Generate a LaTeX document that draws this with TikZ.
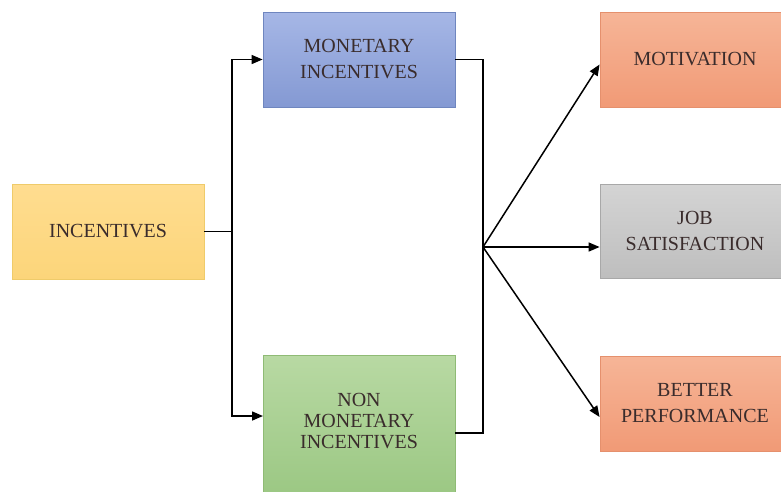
\documentclass[tikz,border=0pt]{standalone}
\usepackage{fontspec}
\setmainfont{Liberation Serif}
\usetikzlibrary{arrows.meta,calc}
\definecolor{txt}{HTML}{3A2C2C}
\definecolor{yelT}{HTML}{FFDD90}
\definecolor{yelB}{HTML}{FCD57A}
\definecolor{yelD}{HTML}{EFCB6A}
\definecolor{bluT}{HTML}{A6B7E6}
\definecolor{bluB}{HTML}{8499D3}
\definecolor{bluD}{HTML}{6F86BF}
\definecolor{grnT}{HTML}{B8D9A3}
\definecolor{grnB}{HTML}{9CC884}
\definecolor{grnD}{HTML}{8FBB75}
\definecolor{salT}{HTML}{F6B597}
\definecolor{salB}{HTML}{F19A76}
\definecolor{salD}{HTML}{E5906D}
\definecolor{gryT}{HTML}{D4D4D4}
\definecolor{gryB}{HTML}{BEBEBE}
\definecolor{gryD}{HTML}{A8A8A8}
\begin{document}
\begin{tikzpicture}[x=1pt,y=-1pt,
  box/.style={rectangle, draw, line width=0.8pt, align=center, text=txt,
    font=\fontsize{20}{26}\selectfont, inner sep=0pt},
  yel/.style={box, draw=yelD, top color=yelT, bottom color=yelB},
  blu/.style={box, draw=bluD, top color=bluT, bottom color=bluB},
  grn/.style={box, draw=grnD, top color=grnT, bottom color=grnB},
  sal/.style={box, draw=salD, top color=salT, bottom color=salB},
  gry/.style={box, draw=gryD, top color=gryT, bottom color=gryB},
  conn/.style={line width=1.5pt, black},
  arr/.style={conn, -{Triangle[length=11pt,width=9pt]}}]
\useasboundingbox (0,0) rectangle (781,491);
\clip (0,0) rectangle (781,491);
\fill[white] (0,0) rectangle (781,491);
\node[yel, minimum width=192, minimum height=95] (inc) at (108,231.5) {INCENTIVES};
\node[blu, minimum width=192, minimum height=95] (mon) at (359,59.5) {MONETARY\\INCENTIVES};
\node[grn, minimum width=192, minimum height=137] (non) at (359,423.5) {};
\node[text=txt, font=\fontsize{20}{21}\selectfont, align=center] (nontxt) at (359,421) {NON\\MONETARY\\INCENTIVES};
\node[sal, minimum width=190, minimum height=95] (mot) at (695,59.5) {MOTIVATION};
\node[gry, minimum width=190, minimum height=94] (job) at (695,231) {JOB\\SATISFACTION};
\node[sal, minimum width=190, minimum height=95] (bet) at (695,403.5) {BETTER\\PERFORMANCE};
\coordinate (j1) at (232,231.5);
\coordinate (j2) at (483,247);
\coordinate (nonin) at (263,416);
\coordinate (nonout) at (455,433);
\coordinate (motin) at ($(mot.west)+(0,5)$);
\coordinate (jobin) at ($(job.west)+(0,16)$);
\coordinate (betin) at ($(bet.west)+(0,13.5)$);
\draw[conn] (inc.east) -- (j1);
\draw[arr] (j1) |- (mon.west);
\draw[arr] (j1) |- (nonin);
\draw[conn] (mon.east) -| (j2);
\draw[conn] (nonout) -| (j2);
\draw[arr] (j2) -- (motin);
\draw[arr] (j2) -- (jobin);
\draw[arr] (j2) -- (betin);
\end{tikzpicture}
\end{document}
